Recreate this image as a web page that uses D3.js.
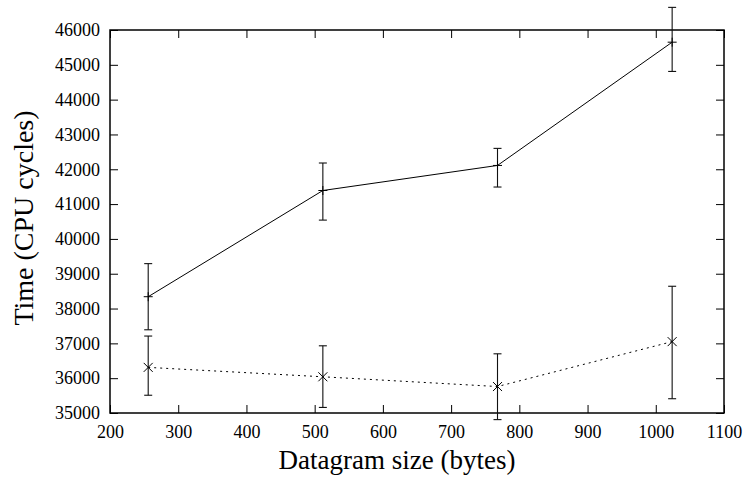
<!DOCTYPE html>
<html>
<head>
<meta charset="utf-8">
<script src="https://cdn.jsdelivr.net/npm/d3@7"></script>
<style>
  body { margin: 0; background: #fff; }
  text { font-family: "Liberation Serif", "DejaVu Serif", serif; fill: #000; }
</style>
</head>
<body>
<script>
var sizes = [256, 512, 768, 1024];

// solid series (+ markers)
var seriesA = [38340, 41390, 42110, 45650];
var seriesALow = [37390, 40540, 41490, 44810];
var seriesAHigh = [39290, 42180, 42600, 46650];

// dotted series (x markers)
var seriesB = [36310, 36040, 35760, 37050];
var seriesBLow = [35510, 35160, 34810, 35410];
var seriesBHigh = [37210, 36930, 36700, 38640];

var xTicks = [200, 300, 400, 500, 600, 700, 800, 900, 1000, 1100];
var yTicks = [35000, 36000, 37000, 38000, 39000, 40000, 41000, 42000, 43000, 44000, 45000, 46000];

(function () {
    var width = 747, height = 487;
    var pl = 110, pr = 724, pt = 30, pb = 413;

    var x = d3.scaleLinear().domain([200, 1100]).range([pl, pr]);
    var y = d3.scaleLinear().domain([35000, 46000]).range([pb, pt]);

    var svg = d3.select("body").append("svg")
        .attr("width", width)
        .attr("height", height);

    // mirrored inward ticks
    var tick = 8;
    svg.append("g").attr("transform", "translate(0," + pb + ")")
        .call(d3.axisBottom(x).tickValues(xTicks).tickSize(-tick).tickPadding(12).tickFormat(d3.format("d")))
        .call(function (g) { g.select(".domain").remove(); });
    svg.append("g").attr("transform", "translate(0," + pt + ")")
        .call(d3.axisTop(x).tickValues(xTicks).tickSize(-tick).tickFormat(""))
        .call(function (g) { g.select(".domain").remove(); });
    svg.append("g").attr("transform", "translate(" + pl + ",0)")
        .call(d3.axisLeft(y).tickValues(yTicks).tickSize(-tick).tickPadding(10).tickFormat(d3.format("d")))
        .call(function (g) { g.select(".domain").remove(); });
    svg.append("g").attr("transform", "translate(" + pr + ",0)")
        .call(d3.axisRight(y).tickValues(yTicks).tickSize(-tick).tickFormat(""))
        .call(function (g) { g.select(".domain").remove(); });

    svg.selectAll(".tick line").attr("stroke", "#000").attr("stroke-width", 1);
    svg.selectAll(".tick text").style("font-size", "18px");

    svg.append("rect")
        .attr("x", pl).attr("y", pt)
        .attr("width", pr - pl).attr("height", pb - pt)
        .attr("fill", "none").attr("stroke", "#000").attr("stroke-width", 1.5);

    function drawSeries(vals, lows, highs, dash, marker) {
        var pts = sizes.map(function (s, i) { return { x: s, v: vals[i], lo: lows[i], hi: highs[i] }; });
        var g = svg.append("g");

        g.append("path")
            .datum(pts)
            .attr("fill", "none")
            .attr("stroke", "#000")
            .attr("stroke-width", 1)
            .attr("stroke-dasharray", dash)
            .attr("d", d3.line().x(function (d) { return x(d.x); }).y(function (d) { return y(d.v); }));

        var cap = 4;
        var eb = g.selectAll(".eb").data(pts).enter().append("g").attr("stroke", "#111").attr("stroke-width", 1.1);
        eb.append("line")
            .attr("x1", function (d) { return x(d.x); }).attr("x2", function (d) { return x(d.x); })
            .attr("y1", function (d) { return y(d.lo); }).attr("y2", function (d) { return y(d.hi); });
        eb.append("line")
            .attr("x1", function (d) { return x(d.x) - cap; }).attr("x2", function (d) { return x(d.x) + cap; })
            .attr("y1", function (d) { return y(d.lo); }).attr("y2", function (d) { return y(d.lo); });
        eb.append("line")
            .attr("x1", function (d) { return x(d.x) - cap; }).attr("x2", function (d) { return x(d.x) + cap; })
            .attr("y1", function (d) { return y(d.hi); }).attr("y2", function (d) { return y(d.hi); });

        var m = 4.5;
        g.selectAll(".mk").data(pts).enter().append("path")
            .attr("stroke", "#000").attr("stroke-width", 1).attr("fill", "none")
            .attr("d", function (d) {
                var cx = x(d.x), cy = y(d.v);
                if (marker === "plus") {
                    return "M" + (cx - m) + "," + cy + "H" + (cx + m) + "M" + cx + "," + (cy - m) + "V" + (cy + m);
                }
                return "M" + (cx - m) + "," + (cy - m) + "L" + (cx + m) + "," + (cy + m) +
                    "M" + (cx - m) + "," + (cy + m) + "L" + (cx + m) + "," + (cy - m);
            });
    }

    drawSeries(seriesA, seriesALow, seriesAHigh, null, "plus");
    drawSeries(seriesB, seriesBLow, seriesBHigh, "2,4", "cross");

    svg.append("text")
        .attr("x", 397).attr("y", 469)
        .attr("text-anchor", "middle")
        .style("font-size", "27px")
        .text("Datagram size (bytes)");

    svg.append("text")
        .attr("transform", "translate(33,218) rotate(-90)")
        .attr("text-anchor", "middle")
        .style("font-size", "28px")
        .text("Time (CPU cycles)");
}());
</script>
</body>
</html>
